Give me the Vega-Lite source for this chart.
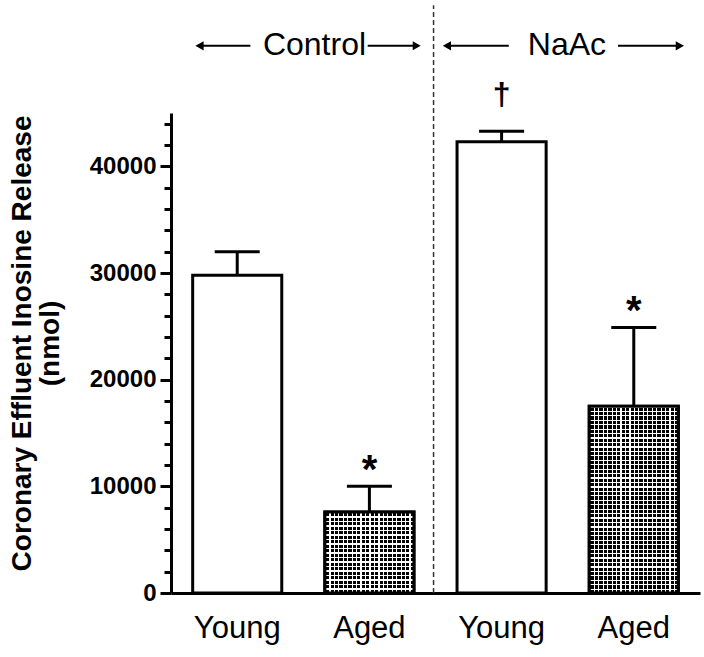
{
  "$schema": "https://vega.github.io/schema/vega-lite/v6.json",
  "width": 529,
  "height": 480,
  "autosize": "none",
  "padding": {"left": 171, "top": 113, "right": 4, "bottom": 64},
  "background": "white",
  "config": {"view": {"stroke": null}, "font": "Liberation Sans"},
  "resolve": {"axis": {"y": "independent"}},
  "datasets": {
    "bars": [
      {"id": "C-Young", "group": "Control", "age": "Young", "value": 29800, "err": 32000},
      {"id": "C-Aged", "group": "Control", "age": "Aged", "value": 7600, "err": 10000, "sig": "*"},
      {"id": "N-Young", "group": "NaAc", "age": "Young", "value": 42300, "err": 43300, "sig": "†"},
      {"id": "N-Aged", "group": "NaAc", "age": "Aged", "value": 17500, "err": 24900, "sig": "*"}
    ],
    "divider": [{"id": "C-Aged"}]
  },
  "layer": [
    {
      "data": {"name": "bars"},
      "mark": {"type": "bar", "fill": "white", "stroke": "black", "strokeWidth": 3},
      "encoding": {
        "x": {
          "field": "id", "type": "nominal", "title": null,
          "scale": {"domain": ["C-Young", "C-Aged", "N-Young", "N-Aged"], "paddingInner": 0.326, "paddingOuter": 0.164},
          "axis": {
            "domainWidth": 3, "domainColor": "black", "ticks": false, "tickSize": 0,
            "labelFontSize": 31, "labelFont": "Liberation Sans", "labelColor": "black",
            "labelPadding": 20, "labelAngle": 0,
            "labelExpr": "indexof(datum.value, 'Young') >= 0 ? 'Young' : 'Aged'"
          }
        },
        "y": {
          "field": "value", "type": "quantitative",
          "scale": {"domain": [0, 45000], "nice": false, "zero": true},
          "axis": {
            "orient": "left",
            "values": [0, 10000, 20000, 30000, 40000],
            "format": "d",
            "labelOverlap": false,
            "tickSize": 11, "tickWidth": 3, "tickColor": "black",
            "domainWidth": 3, "domainColor": "black",
            "labelFontSize": 24, "labelFontWeight": "bold", "labelColor": "black", "labelFont": "Liberation Sans",
            "labelPadding": 4, "grid": false,
            "title": ["Coronary Effluent Inosine Release", "(nmol)"],
            "titleFontSize": 28, "titleFontWeight": "bold", "titleColor": "black", "titleFont": "Liberation Sans",
            "titleLineHeight": 28, "titlePadding": 25, "titleY": 230
          }
        }
      }
    },
    {
      "data": {"name": "bars"},
      "transform": [{"filter": "datum.age === 'Aged'"}],
      "mark": {
        "type": "bar", "strokeWidth": 0,
        "fill": {
          "gradient": "linear", "x1": 0, "y1": 0, "x2": 1, "y2": 0,
          "stops": [
            {"offset": 0, "color": "#fff"}, {"offset": 0.014, "color": "#fff"}, {"offset": 0.014, "color": "#000"}, {"offset": 0.05, "color": "#000"},
            {"offset": 0.05, "color": "#fff"}, {"offset": 0.064, "color": "#fff"}, {"offset": 0.064, "color": "#000"}, {"offset": 0.1, "color": "#000"},
            {"offset": 0.1, "color": "#fff"}, {"offset": 0.114, "color": "#fff"}, {"offset": 0.114, "color": "#000"}, {"offset": 0.15, "color": "#000"},
            {"offset": 0.15, "color": "#fff"}, {"offset": 0.164, "color": "#fff"}, {"offset": 0.164, "color": "#000"}, {"offset": 0.2, "color": "#000"},
            {"offset": 0.2, "color": "#fff"}, {"offset": 0.214, "color": "#fff"}, {"offset": 0.214, "color": "#000"}, {"offset": 0.25, "color": "#000"},
            {"offset": 0.25, "color": "#fff"}, {"offset": 0.264, "color": "#fff"}, {"offset": 0.264, "color": "#000"}, {"offset": 0.3, "color": "#000"},
            {"offset": 0.3, "color": "#fff"}, {"offset": 0.314, "color": "#fff"}, {"offset": 0.314, "color": "#000"}, {"offset": 0.35, "color": "#000"},
            {"offset": 0.35, "color": "#fff"}, {"offset": 0.364, "color": "#fff"}, {"offset": 0.364, "color": "#000"}, {"offset": 0.4, "color": "#000"},
            {"offset": 0.4, "color": "#fff"}, {"offset": 0.414, "color": "#fff"}, {"offset": 0.414, "color": "#000"}, {"offset": 0.45, "color": "#000"},
            {"offset": 0.45, "color": "#fff"}, {"offset": 0.464, "color": "#fff"}, {"offset": 0.464, "color": "#000"}, {"offset": 0.5, "color": "#000"},
            {"offset": 0.5, "color": "#fff"}, {"offset": 0.514, "color": "#fff"}, {"offset": 0.514, "color": "#000"}, {"offset": 0.55, "color": "#000"},
            {"offset": 0.55, "color": "#fff"}, {"offset": 0.564, "color": "#fff"}, {"offset": 0.564, "color": "#000"}, {"offset": 0.6, "color": "#000"},
            {"offset": 0.6, "color": "#fff"}, {"offset": 0.614, "color": "#fff"}, {"offset": 0.614, "color": "#000"}, {"offset": 0.65, "color": "#000"},
            {"offset": 0.65, "color": "#fff"}, {"offset": 0.664, "color": "#fff"}, {"offset": 0.664, "color": "#000"}, {"offset": 0.7, "color": "#000"},
            {"offset": 0.7, "color": "#fff"}, {"offset": 0.714, "color": "#fff"}, {"offset": 0.714, "color": "#000"}, {"offset": 0.75, "color": "#000"},
            {"offset": 0.75, "color": "#fff"}, {"offset": 0.764, "color": "#fff"}, {"offset": 0.764, "color": "#000"}, {"offset": 0.8, "color": "#000"},
            {"offset": 0.8, "color": "#fff"}, {"offset": 0.814, "color": "#fff"}, {"offset": 0.814, "color": "#000"}, {"offset": 0.85, "color": "#000"},
            {"offset": 0.85, "color": "#fff"}, {"offset": 0.864, "color": "#fff"}, {"offset": 0.864, "color": "#000"}, {"offset": 0.9, "color": "#000"},
            {"offset": 0.9, "color": "#fff"}, {"offset": 0.914, "color": "#fff"}, {"offset": 0.914, "color": "#000"}, {"offset": 0.95, "color": "#000"},
            {"offset": 0.95, "color": "#fff"}, {"offset": 0.964, "color": "#fff"}, {"offset": 0.964, "color": "#000"}, {"offset": 1, "color": "#000"}
          ]
        }
      },
      "encoding": {
        "x": {"field": "id", "type": "nominal"},
        "y": {"field": "value", "type": "quantitative", "axis": null}
      }
    },
    {
      "data": {"name": "bars"},
      "transform": [{"filter": "datum.id === 'C-Aged'"}],
      "mark": {
        "type": "bar", "strokeWidth": 0,
        "fill": {
          "gradient": "linear", "x1": 0, "y1": 0, "x2": 0, "y2": 1,
          "stops": [
            {"offset": 0, "color": "#fff"}, {"offset": 0.0156, "color": "#fff"}, {"offset": 0.0156, "color": "rgba(255,255,255,0)"}, {"offset": 0.0556, "color": "rgba(255,255,255,0)"},
            {"offset": 0.0556, "color": "#fff"}, {"offset": 0.0712, "color": "#fff"}, {"offset": 0.0712, "color": "rgba(255,255,255,0)"}, {"offset": 0.1111, "color": "rgba(255,255,255,0)"},
            {"offset": 0.1111, "color": "#fff"}, {"offset": 0.1267, "color": "#fff"}, {"offset": 0.1267, "color": "rgba(255,255,255,0)"}, {"offset": 0.1667, "color": "rgba(255,255,255,0)"},
            {"offset": 0.1667, "color": "#fff"}, {"offset": 0.1823, "color": "#fff"}, {"offset": 0.1823, "color": "rgba(255,255,255,0)"}, {"offset": 0.2222, "color": "rgba(255,255,255,0)"},
            {"offset": 0.2222, "color": "#fff"}, {"offset": 0.2378, "color": "#fff"}, {"offset": 0.2378, "color": "rgba(255,255,255,0)"}, {"offset": 0.2778, "color": "rgba(255,255,255,0)"},
            {"offset": 0.2778, "color": "#fff"}, {"offset": 0.2934, "color": "#fff"}, {"offset": 0.2934, "color": "rgba(255,255,255,0)"}, {"offset": 0.3333, "color": "rgba(255,255,255,0)"},
            {"offset": 0.3333, "color": "#fff"}, {"offset": 0.3489, "color": "#fff"}, {"offset": 0.3489, "color": "rgba(255,255,255,0)"}, {"offset": 0.3889, "color": "rgba(255,255,255,0)"},
            {"offset": 0.3889, "color": "#fff"}, {"offset": 0.4045, "color": "#fff"}, {"offset": 0.4045, "color": "rgba(255,255,255,0)"}, {"offset": 0.4444, "color": "rgba(255,255,255,0)"},
            {"offset": 0.4444, "color": "#fff"}, {"offset": 0.46, "color": "#fff"}, {"offset": 0.46, "color": "rgba(255,255,255,0)"}, {"offset": 0.5, "color": "rgba(255,255,255,0)"},
            {"offset": 0.5, "color": "#fff"}, {"offset": 0.5156, "color": "#fff"}, {"offset": 0.5156, "color": "rgba(255,255,255,0)"}, {"offset": 0.5556, "color": "rgba(255,255,255,0)"},
            {"offset": 0.5556, "color": "#fff"}, {"offset": 0.5712, "color": "#fff"}, {"offset": 0.5712, "color": "rgba(255,255,255,0)"}, {"offset": 0.6111, "color": "rgba(255,255,255,0)"},
            {"offset": 0.6111, "color": "#fff"}, {"offset": 0.6267, "color": "#fff"}, {"offset": 0.6267, "color": "rgba(255,255,255,0)"}, {"offset": 0.6667, "color": "rgba(255,255,255,0)"},
            {"offset": 0.6667, "color": "#fff"}, {"offset": 0.6823, "color": "#fff"}, {"offset": 0.6823, "color": "rgba(255,255,255,0)"}, {"offset": 0.7222, "color": "rgba(255,255,255,0)"},
            {"offset": 0.7222, "color": "#fff"}, {"offset": 0.7378, "color": "#fff"}, {"offset": 0.7378, "color": "rgba(255,255,255,0)"}, {"offset": 0.7778, "color": "rgba(255,255,255,0)"},
            {"offset": 0.7778, "color": "#fff"}, {"offset": 0.7934, "color": "#fff"}, {"offset": 0.7934, "color": "rgba(255,255,255,0)"}, {"offset": 0.8333, "color": "rgba(255,255,255,0)"},
            {"offset": 0.8333, "color": "#fff"}, {"offset": 0.8489, "color": "#fff"}, {"offset": 0.8489, "color": "rgba(255,255,255,0)"}, {"offset": 0.8889, "color": "rgba(255,255,255,0)"},
            {"offset": 0.8889, "color": "#fff"}, {"offset": 0.9045, "color": "#fff"}, {"offset": 0.9045, "color": "rgba(255,255,255,0)"}, {"offset": 0.9444, "color": "rgba(255,255,255,0)"},
            {"offset": 0.9444, "color": "#fff"}, {"offset": 0.96, "color": "#fff"}, {"offset": 0.96, "color": "rgba(255,255,255,0)"}, {"offset": 1, "color": "rgba(255,255,255,0)"}
          ]
        }
      },
      "encoding": {
        "x": {"field": "id", "type": "nominal"},
        "y": {"field": "value", "type": "quantitative", "axis": null}
      }
    },
    {
      "data": {"name": "bars"},
      "transform": [{"filter": "datum.id === 'N-Aged'"}],
      "mark": {
        "type": "bar", "strokeWidth": 0,
        "fill": {
          "gradient": "linear", "x1": 0, "y1": 0, "x2": 0, "y2": 1,
          "stops": [
            {"offset": 0, "color": "#fff"}, {"offset": 0.0067, "color": "#fff"}, {"offset": 0.0067, "color": "rgba(255,255,255,0)"}, {"offset": 0.0238, "color": "rgba(255,255,255,0)"},
            {"offset": 0.0238, "color": "#fff"}, {"offset": 0.0305, "color": "#fff"}, {"offset": 0.0305, "color": "rgba(255,255,255,0)"}, {"offset": 0.0476, "color": "rgba(255,255,255,0)"},
            {"offset": 0.0476, "color": "#fff"}, {"offset": 0.0543, "color": "#fff"}, {"offset": 0.0543, "color": "rgba(255,255,255,0)"}, {"offset": 0.0714, "color": "rgba(255,255,255,0)"},
            {"offset": 0.0714, "color": "#fff"}, {"offset": 0.0781, "color": "#fff"}, {"offset": 0.0781, "color": "rgba(255,255,255,0)"}, {"offset": 0.0952, "color": "rgba(255,255,255,0)"},
            {"offset": 0.0952, "color": "#fff"}, {"offset": 0.1019, "color": "#fff"}, {"offset": 0.1019, "color": "rgba(255,255,255,0)"}, {"offset": 0.119, "color": "rgba(255,255,255,0)"},
            {"offset": 0.119, "color": "#fff"}, {"offset": 0.1257, "color": "#fff"}, {"offset": 0.1257, "color": "rgba(255,255,255,0)"}, {"offset": 0.1429, "color": "rgba(255,255,255,0)"},
            {"offset": 0.1429, "color": "#fff"}, {"offset": 0.1496, "color": "#fff"}, {"offset": 0.1496, "color": "rgba(255,255,255,0)"}, {"offset": 0.1667, "color": "rgba(255,255,255,0)"},
            {"offset": 0.1667, "color": "#fff"}, {"offset": 0.1734, "color": "#fff"}, {"offset": 0.1734, "color": "rgba(255,255,255,0)"}, {"offset": 0.1905, "color": "rgba(255,255,255,0)"},
            {"offset": 0.1905, "color": "#fff"}, {"offset": 0.1972, "color": "#fff"}, {"offset": 0.1972, "color": "rgba(255,255,255,0)"}, {"offset": 0.2143, "color": "rgba(255,255,255,0)"},
            {"offset": 0.2143, "color": "#fff"}, {"offset": 0.221, "color": "#fff"}, {"offset": 0.221, "color": "rgba(255,255,255,0)"}, {"offset": 0.2381, "color": "rgba(255,255,255,0)"},
            {"offset": 0.2381, "color": "#fff"}, {"offset": 0.2448, "color": "#fff"}, {"offset": 0.2448, "color": "rgba(255,255,255,0)"}, {"offset": 0.2619, "color": "rgba(255,255,255,0)"},
            {"offset": 0.2619, "color": "#fff"}, {"offset": 0.2686, "color": "#fff"}, {"offset": 0.2686, "color": "rgba(255,255,255,0)"}, {"offset": 0.2857, "color": "rgba(255,255,255,0)"},
            {"offset": 0.2857, "color": "#fff"}, {"offset": 0.2924, "color": "#fff"}, {"offset": 0.2924, "color": "rgba(255,255,255,0)"}, {"offset": 0.3095, "color": "rgba(255,255,255,0)"},
            {"offset": 0.3095, "color": "#fff"}, {"offset": 0.3162, "color": "#fff"}, {"offset": 0.3162, "color": "rgba(255,255,255,0)"}, {"offset": 0.3333, "color": "rgba(255,255,255,0)"},
            {"offset": 0.3333, "color": "#fff"}, {"offset": 0.34, "color": "#fff"}, {"offset": 0.34, "color": "rgba(255,255,255,0)"}, {"offset": 0.3571, "color": "rgba(255,255,255,0)"},
            {"offset": 0.3571, "color": "#fff"}, {"offset": 0.3638, "color": "#fff"}, {"offset": 0.3638, "color": "rgba(255,255,255,0)"}, {"offset": 0.381, "color": "rgba(255,255,255,0)"},
            {"offset": 0.381, "color": "#fff"}, {"offset": 0.3877, "color": "#fff"}, {"offset": 0.3877, "color": "rgba(255,255,255,0)"}, {"offset": 0.4048, "color": "rgba(255,255,255,0)"},
            {"offset": 0.4048, "color": "#fff"}, {"offset": 0.4115, "color": "#fff"}, {"offset": 0.4115, "color": "rgba(255,255,255,0)"}, {"offset": 0.4286, "color": "rgba(255,255,255,0)"},
            {"offset": 0.4286, "color": "#fff"}, {"offset": 0.4353, "color": "#fff"}, {"offset": 0.4353, "color": "rgba(255,255,255,0)"}, {"offset": 0.4524, "color": "rgba(255,255,255,0)"},
            {"offset": 0.4524, "color": "#fff"}, {"offset": 0.4591, "color": "#fff"}, {"offset": 0.4591, "color": "rgba(255,255,255,0)"}, {"offset": 0.4762, "color": "rgba(255,255,255,0)"},
            {"offset": 0.4762, "color": "#fff"}, {"offset": 0.4829, "color": "#fff"}, {"offset": 0.4829, "color": "rgba(255,255,255,0)"}, {"offset": 0.5, "color": "rgba(255,255,255,0)"},
            {"offset": 0.5, "color": "#fff"}, {"offset": 0.5067, "color": "#fff"}, {"offset": 0.5067, "color": "rgba(255,255,255,0)"}, {"offset": 0.5238, "color": "rgba(255,255,255,0)"},
            {"offset": 0.5238, "color": "#fff"}, {"offset": 0.5305, "color": "#fff"}, {"offset": 0.5305, "color": "rgba(255,255,255,0)"}, {"offset": 0.5476, "color": "rgba(255,255,255,0)"},
            {"offset": 0.5476, "color": "#fff"}, {"offset": 0.5543, "color": "#fff"}, {"offset": 0.5543, "color": "rgba(255,255,255,0)"}, {"offset": 0.5714, "color": "rgba(255,255,255,0)"},
            {"offset": 0.5714, "color": "#fff"}, {"offset": 0.5781, "color": "#fff"}, {"offset": 0.5781, "color": "rgba(255,255,255,0)"}, {"offset": 0.5952, "color": "rgba(255,255,255,0)"},
            {"offset": 0.5952, "color": "#fff"}, {"offset": 0.6019, "color": "#fff"}, {"offset": 0.6019, "color": "rgba(255,255,255,0)"}, {"offset": 0.619, "color": "rgba(255,255,255,0)"},
            {"offset": 0.619, "color": "#fff"}, {"offset": 0.6257, "color": "#fff"}, {"offset": 0.6257, "color": "rgba(255,255,255,0)"}, {"offset": 0.6429, "color": "rgba(255,255,255,0)"},
            {"offset": 0.6429, "color": "#fff"}, {"offset": 0.6496, "color": "#fff"}, {"offset": 0.6496, "color": "rgba(255,255,255,0)"}, {"offset": 0.6667, "color": "rgba(255,255,255,0)"},
            {"offset": 0.6667, "color": "#fff"}, {"offset": 0.6734, "color": "#fff"}, {"offset": 0.6734, "color": "rgba(255,255,255,0)"}, {"offset": 0.6905, "color": "rgba(255,255,255,0)"},
            {"offset": 0.6905, "color": "#fff"}, {"offset": 0.6972, "color": "#fff"}, {"offset": 0.6972, "color": "rgba(255,255,255,0)"}, {"offset": 0.7143, "color": "rgba(255,255,255,0)"},
            {"offset": 0.7143, "color": "#fff"}, {"offset": 0.721, "color": "#fff"}, {"offset": 0.721, "color": "rgba(255,255,255,0)"}, {"offset": 0.7381, "color": "rgba(255,255,255,0)"},
            {"offset": 0.7381, "color": "#fff"}, {"offset": 0.7448, "color": "#fff"}, {"offset": 0.7448, "color": "rgba(255,255,255,0)"}, {"offset": 0.7619, "color": "rgba(255,255,255,0)"},
            {"offset": 0.7619, "color": "#fff"}, {"offset": 0.7686, "color": "#fff"}, {"offset": 0.7686, "color": "rgba(255,255,255,0)"}, {"offset": 0.7857, "color": "rgba(255,255,255,0)"},
            {"offset": 0.7857, "color": "#fff"}, {"offset": 0.7924, "color": "#fff"}, {"offset": 0.7924, "color": "rgba(255,255,255,0)"}, {"offset": 0.8095, "color": "rgba(255,255,255,0)"},
            {"offset": 0.8095, "color": "#fff"}, {"offset": 0.8162, "color": "#fff"}, {"offset": 0.8162, "color": "rgba(255,255,255,0)"}, {"offset": 0.8333, "color": "rgba(255,255,255,0)"},
            {"offset": 0.8333, "color": "#fff"}, {"offset": 0.84, "color": "#fff"}, {"offset": 0.84, "color": "rgba(255,255,255,0)"}, {"offset": 0.8571, "color": "rgba(255,255,255,0)"},
            {"offset": 0.8571, "color": "#fff"}, {"offset": 0.8638, "color": "#fff"}, {"offset": 0.8638, "color": "rgba(255,255,255,0)"}, {"offset": 0.881, "color": "rgba(255,255,255,0)"},
            {"offset": 0.881, "color": "#fff"}, {"offset": 0.8877, "color": "#fff"}, {"offset": 0.8877, "color": "rgba(255,255,255,0)"}, {"offset": 0.9048, "color": "rgba(255,255,255,0)"},
            {"offset": 0.9048, "color": "#fff"}, {"offset": 0.9115, "color": "#fff"}, {"offset": 0.9115, "color": "rgba(255,255,255,0)"}, {"offset": 0.9286, "color": "rgba(255,255,255,0)"},
            {"offset": 0.9286, "color": "#fff"}, {"offset": 0.9353, "color": "#fff"}, {"offset": 0.9353, "color": "rgba(255,255,255,0)"}, {"offset": 0.9524, "color": "rgba(255,255,255,0)"},
            {"offset": 0.9524, "color": "#fff"}, {"offset": 0.9591, "color": "#fff"}, {"offset": 0.9591, "color": "rgba(255,255,255,0)"}, {"offset": 0.9762, "color": "rgba(255,255,255,0)"},
            {"offset": 0.9762, "color": "#fff"}, {"offset": 0.9829, "color": "#fff"}, {"offset": 0.9829, "color": "rgba(255,255,255,0)"}, {"offset": 1, "color": "rgba(255,255,255,0)"}
          ]
        }
      },
      "encoding": {
        "x": {"field": "id", "type": "nominal"},
        "y": {"field": "value", "type": "quantitative", "axis": null}
      }
    },
    {
      "data": {"name": "bars"},
      "transform": [{"filter": "datum.age === 'Aged'"}],
      "mark": {"type": "bar", "fillOpacity": 0, "stroke": "black", "strokeWidth": 3},
      "encoding": {
        "x": {"field": "id", "type": "nominal"},
        "y": {
          "field": "value", "type": "quantitative",
          "axis": {
            "orient": "left",
            "values": [2000, 4000, 6000, 8000, 12000, 14000, 16000, 18000, 22000, 24000, 26000, 28000, 32000, 34000, 36000, 38000, 42000, 44000],
            "labels": false, "domain": false, "grid": false, "title": null,
            "tickSize": 7, "tickWidth": 3, "tickColor": "black"
          }
        }
      }
    },
    {
      "data": {"name": "bars"},
      "mark": {"type": "rule", "color": "black", "strokeWidth": 3},
      "encoding": {
        "x": {"field": "id", "type": "nominal"},
        "y": {"field": "value", "type": "quantitative", "axis": null},
        "y2": {"field": "err"}
      }
    },
    {
      "data": {"name": "bars"},
      "mark": {"type": "tick", "color": "black", "thickness": 3, "opacity": 1},
      "encoding": {
        "x": {"field": "id", "type": "nominal"},
        "y": {"field": "err", "type": "quantitative", "axis": null},
        "size": {"value": 45}
      }
    },
    {
      "data": {"name": "bars"},
      "transform": [{"filter": "datum.sig === '*'"}],
      "mark": {"type": "text", "font": "Liberation Sans", "fontWeight": "bold", "fontSize": 40, "baseline": "alphabetic", "align": "center", "dy": -3, "color": "black"},
      "encoding": {
        "x": {"field": "id", "type": "nominal"},
        "y": {"field": "err", "type": "quantitative", "axis": null},
        "text": {"field": "sig"}
      }
    },
    {
      "data": {"name": "bars"},
      "transform": [{"filter": "datum.sig === '†'"}],
      "mark": {"type": "text", "font": "Liberation Sans", "fontWeight": "bold", "fontSize": 32, "baseline": "alphabetic", "align": "center", "dy": -26, "color": "black"},
      "encoding": {
        "x": {"field": "id", "type": "nominal"},
        "y": {"field": "err", "type": "quantitative", "axis": null},
        "text": {"field": "sig"}
      }
    },
    {
      "data": {"name": "bars"},
      "transform": [{"filter": "datum.id === 'C-Young'"}],
      "mark": {"type": "text", "font": "Liberation Sans", "fontSize": 32, "baseline": "alphabetic", "align": "center", "color": "black"},
      "encoding": {
        "x": {"field": "id", "type": "nominal", "bandPosition": 1.367},
        "y": {"datum": 50400, "type": "quantitative", "axis": null},
        "text": {"value": "Control"}
      }
    },
    {
      "data": {"name": "bars"},
      "transform": [{"filter": "datum.id === 'N-Young'"}],
      "mark": {"type": "text", "font": "Liberation Sans", "fontSize": 32, "baseline": "alphabetic", "align": "center", "color": "black"},
      "encoding": {
        "x": {"field": "id", "type": "nominal", "bandPosition": 1.233},
        "y": {"datum": 50400, "type": "quantitative", "axis": null},
        "text": {"value": "NaAc"}
      }
    },
    {
      "data": {"name": "bars"},
      "transform": [{"filter": "datum.id === 'C-Young'"}],
      "mark": {"type": "point", "filled": true, "opacity": 1, "color": "black", "strokeWidth": 0,
               "shape": "M-1,0L-0.7,-0.17L-0.7,-0.035L1,-0.035L1,0.035L-0.7,0.035L-0.7,0.17Z"},
      "encoding": {
        "x": {"field": "id", "type": "nominal", "bandPosition": 0.339},
        "y": {"datum": 51300, "type": "quantitative", "axis": null},
        "size": {"value": 3025}
      }
    },
    {
      "data": {"name": "bars"},
      "transform": [{"filter": "datum.id === 'C-Aged'"}],
      "mark": {"type": "point", "filled": true, "opacity": 1, "color": "black", "strokeWidth": 0,
               "shape": "M1,0L0.7,-0.17L0.7,-0.035L-1,-0.035L-1,0.035L0.7,0.035L0.7,0.17Z"},
      "encoding": {
        "x": {"field": "id", "type": "nominal", "bandPosition": 0.778},
        "y": {"datum": 51300, "type": "quantitative", "axis": null},
        "size": {"value": 2809}
      }
    },
    {
      "data": {"name": "bars"},
      "transform": [{"filter": "datum.id === 'N-Young'"}],
      "mark": {"type": "point", "filled": true, "opacity": 1, "color": "black", "strokeWidth": 0,
               "shape": "M-1,0L-0.75,-0.14L-0.75,-0.03L1,-0.03L1,0.03L-0.75,0.03L-0.75,0.14Z"},
      "encoding": {
        "x": {"field": "id", "type": "nominal", "bandPosition": 0.21},
        "y": {"datum": 51300, "type": "quantitative", "axis": null},
        "size": {"value": 4356}
      }
    },
    {
      "data": {"name": "bars"},
      "transform": [{"filter": "datum.id === 'N-Aged'"}],
      "mark": {"type": "point", "filled": true, "opacity": 1, "color": "black", "strokeWidth": 0,
               "shape": "M1,0L0.75,-0.14L0.75,-0.03L-1,-0.03L-1,0.03L0.75,0.03L0.75,0.14Z"},
      "encoding": {
        "x": {"field": "id", "type": "nominal", "bandPosition": 0.693},
        "y": {"datum": 51300, "type": "quantitative", "axis": null},
        "size": {"value": 4356}
      }
    },
    {
      "data": {"name": "divider"},
      "mark": {"type": "rule", "color": "#333", "strokeWidth": 1.5, "strokeDash": [5, 3]},
      "encoding": {
        "x": {"field": "id", "type": "nominal", "bandPosition": 1.22},
        "y": {"datum": 0, "type": "quantitative", "axis": null},
        "y2": {"datum": 55100}
      }
    }
  ]
}
